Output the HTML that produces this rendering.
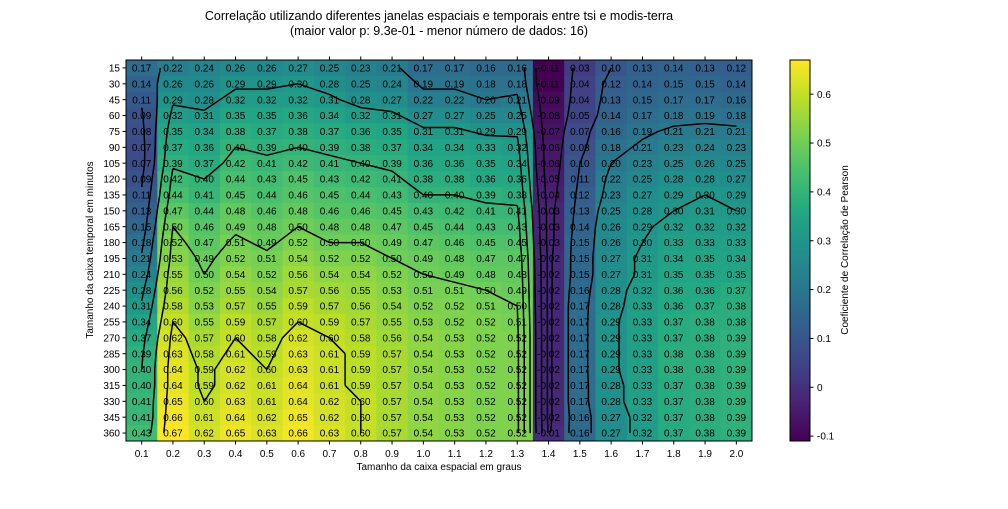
<!DOCTYPE html>
<html><head><meta charset="utf-8">
<style>
body{margin:0;background:#fff;}
svg text{font-family:"Liberation Sans","DejaVu Sans",sans-serif;}
</style></head>
<body>
<svg id="chart" width="1008" height="504" xmlns="http://www.w3.org/2000/svg">
<text x="439" y="20" font-size="12.5" text-anchor="middle">Correlação utilizando diferentes janelas espaciais e temporais entre tsi e modis-terra</text>
<text x="439" y="35" font-size="12.5" text-anchor="middle">(maior valor p: 9.3e-01 - menor número de dados: 16)</text>
<g id="cells"></g>
<g id="contours"></g>
<g id="labels"></g>
<rect x="126" y="60" width="626" height="381" fill="none" stroke="#000" stroke-width="1"/>
<g id="xaxis"></g>
<g id="yaxis"></g>
<text x="439" y="470" font-size="10" text-anchor="middle">Tamanho da caixa espacial em graus</text>
<text transform="translate(93,250) rotate(-90)" font-size="10" text-anchor="middle">Tamanho da caixa temporal em minutos</text>
<defs><linearGradient id="cbg" x1="0" y1="1" x2="0" y2="0"></linearGradient></defs>
<rect x="790" y="60" width="20" height="381" fill="url(#cbg)" stroke="#000" stroke-width="1"/>
<g id="cbticks"></g>
<text transform="translate(848,250) rotate(-90)" font-size="10" text-anchor="middle">Coeficiente de Correlação de Pearson</text>
</svg>
<script>
const xCats=["0.1","0.2","0.3","0.4","0.5","0.6","0.7","0.8","0.9","1.0","1.1","1.2","1.3","1.4","1.5","1.6","1.7","1.8","1.9","2.0"];
const yCats=["15","30","45","60","75","90","105","120","135","150","165","180","195","210","225","240","255","270","285","300","315","330","345","360"];
const values=[
[0.17,0.22,0.24,0.26,0.26,0.27,0.25,0.23,0.21,0.17,0.17,0.16,0.16,-0.11,0.03,0.10,0.13,0.14,0.13,0.12],
[0.14,0.26,0.26,0.29,0.29,0.30,0.28,0.25,0.24,0.19,0.19,0.18,0.18,-0.11,0.04,0.12,0.14,0.15,0.15,0.14],
[0.11,0.29,0.28,0.32,0.32,0.32,0.31,0.28,0.27,0.22,0.22,0.20,0.21,-0.09,0.04,0.13,0.15,0.17,0.17,0.16],
[0.09,0.32,0.31,0.35,0.35,0.36,0.34,0.32,0.31,0.27,0.27,0.25,0.25,-0.08,0.05,0.14,0.17,0.18,0.19,0.18],
[0.08,0.35,0.34,0.38,0.37,0.38,0.37,0.36,0.35,0.31,0.31,0.29,0.29,-0.07,0.07,0.16,0.19,0.21,0.21,0.21],
[0.07,0.37,0.36,0.40,0.39,0.40,0.39,0.38,0.37,0.34,0.34,0.33,0.32,-0.06,0.08,0.18,0.21,0.23,0.24,0.23],
[0.07,0.39,0.37,0.42,0.41,0.42,0.41,0.40,0.39,0.36,0.36,0.35,0.34,-0.06,0.10,0.20,0.23,0.25,0.26,0.25],
[0.09,0.42,0.40,0.44,0.43,0.45,0.43,0.42,0.41,0.38,0.38,0.36,0.36,-0.05,0.11,0.22,0.25,0.28,0.28,0.27],
[0.11,0.44,0.41,0.45,0.44,0.46,0.45,0.44,0.43,0.40,0.40,0.39,0.38,-0.04,0.12,0.23,0.27,0.29,0.30,0.29],
[0.13,0.47,0.44,0.48,0.46,0.48,0.46,0.46,0.45,0.43,0.42,0.41,0.41,-0.03,0.13,0.25,0.28,0.30,0.31,0.30],
[0.15,0.50,0.46,0.49,0.48,0.50,0.48,0.48,0.47,0.45,0.44,0.43,0.43,-0.03,0.14,0.26,0.29,0.32,0.32,0.32],
[0.18,0.52,0.47,0.51,0.49,0.52,0.50,0.50,0.49,0.47,0.46,0.45,0.45,-0.03,0.15,0.26,0.30,0.33,0.33,0.33],
[0.21,0.53,0.49,0.52,0.51,0.54,0.52,0.52,0.50,0.49,0.48,0.47,0.47,-0.02,0.15,0.27,0.31,0.34,0.35,0.34],
[0.24,0.55,0.50,0.54,0.52,0.56,0.54,0.54,0.52,0.50,0.49,0.48,0.48,-0.02,0.15,0.27,0.31,0.35,0.35,0.35],
[0.28,0.56,0.52,0.55,0.54,0.57,0.56,0.55,0.53,0.51,0.51,0.50,0.49,-0.02,0.16,0.28,0.32,0.36,0.36,0.37],
[0.31,0.58,0.53,0.57,0.55,0.59,0.57,0.56,0.54,0.52,0.52,0.51,0.50,-0.02,0.17,0.28,0.33,0.36,0.37,0.38],
[0.34,0.60,0.55,0.59,0.57,0.60,0.59,0.57,0.55,0.53,0.52,0.52,0.51,-0.02,0.17,0.29,0.33,0.37,0.38,0.38],
[0.37,0.62,0.57,0.60,0.58,0.62,0.60,0.58,0.56,0.54,0.53,0.52,0.52,-0.02,0.17,0.29,0.33,0.37,0.38,0.39],
[0.39,0.63,0.58,0.61,0.59,0.63,0.61,0.59,0.57,0.54,0.53,0.52,0.52,-0.02,0.17,0.29,0.33,0.38,0.38,0.39],
[0.40,0.64,0.59,0.62,0.60,0.63,0.61,0.59,0.57,0.54,0.53,0.52,0.52,-0.02,0.17,0.29,0.33,0.38,0.38,0.39],
[0.40,0.64,0.59,0.62,0.61,0.64,0.61,0.59,0.57,0.54,0.53,0.52,0.52,-0.02,0.17,0.28,0.33,0.37,0.38,0.39],
[0.41,0.65,0.60,0.63,0.61,0.64,0.62,0.60,0.57,0.54,0.53,0.52,0.52,-0.02,0.17,0.28,0.33,0.37,0.38,0.39],
[0.41,0.66,0.61,0.64,0.62,0.65,0.62,0.60,0.57,0.54,0.53,0.52,0.52,-0.02,0.16,0.27,0.32,0.37,0.38,0.39],
[0.43,0.67,0.62,0.65,0.63,0.66,0.63,0.60,0.57,0.54,0.53,0.52,0.52,-0.01,0.16,0.27,0.32,0.37,0.38,0.39]];
const contourLevels=[0,0.1,0.2,0.3,0.4,0.5,0.6];
const cbTicks=[-0.1,0,0.1,0.2,0.3,0.4,0.5,0.6];

const NS="http://www.w3.org/2000/svg";
const L=126,T=60,W=626,H=381;
const cw=W/xCats.length, ch=H/yCats.length;
let vmin=Infinity,vmax=-Infinity;
values.forEach(r=>r.forEach(v=>{vmin=Math.min(vmin,v);vmax=Math.max(vmax,v);}));
const xC=i=>L+cw*(i+0.5), yC=j=>T+ch*(j+0.5);
const cbY=v=>T+H-(v-vmin)/(vmax-vmin)*H;
const vir=[[68,1,84],[72,35,116],[64,67,135],[52,94,141],[41,120,142],[32,144,140],[34,167,132],[68,190,112],[121,209,81],[189,222,38],[253,231,37]];
function color(v){let t=(v-vmin)/(vmax-vmin);t=Math.max(0,Math.min(1,t));const p=t*(vir.length-1);const i=Math.min(Math.floor(p),vir.length-2);const f=p-i;const c=vir[i].map((a,k)=>Math.round(a+(vir[i+1][k]-a)*f));return `rgb(${c[0]},${c[1]},${c[2]})`;}
function mk(tag,attrs,parent){const e=document.createElementNS(NS,tag);for(const k in attrs)e.setAttribute(k,attrs[k]);parent.appendChild(e);return e;}
const gC=document.getElementById('cells'),gL=document.getElementById('labels'),gK=document.getElementById('contours');
values.forEach((row,j)=>row.forEach((v,i)=>{
 const r=mk('rect',{x:L+cw*i,y:T+ch*j,width:cw+0.5,height:ch+0.5,fill:color(v)},gC);
 
 
 const t=mk('text',{x:xC(i),y:yC(j)+3.6,'font-size':10,'text-anchor':'middle',fill:'#000'},gL);
 
 
 t.textContent=v.toFixed(2);
}));
// marching squares contours
contourLevels.forEach(lv=>{
 let d='';
 for(let j=0;j<yCats.length-1;j++)for(let i=0;i<xCats.length-1;i++){
  const c=[[i,j],[i+1,j],[i+1,j+1],[i,j+1]];
  const pts=[];
  for(let k=0;k<4;k++){const a=c[k],b=c[(k+1)%4];const va=values[a[1]][a[0]],vb=values[b[1]][b[0]];
   if((va<lv)!==(vb<lv)){const f=(lv-va)/(vb-va);pts.push([xC(a[0]+(b[0]-a[0])*f),yC(a[1]+(b[1]-a[1])*f)]);}}
  for(let k=0;k+1<pts.length;k+=2)d+=`M${pts[k][0].toFixed(1)},${pts[k][1].toFixed(1)}L${pts[k+1][0].toFixed(1)},${pts[k+1][1].toFixed(1)}`;
 }
 const p=mk('path',{d:d,stroke:'#000','stroke-width':1.5,fill:'none'},gK);
 
 
});
const gX=document.getElementById('xaxis'),gY=document.getElementById('yaxis');
xCats.forEach((c,i)=>{
 mk('line',{x1:xC(i),x2:xC(i),y1:T+H,y2:T+H+3.5,stroke:'#000'},gX);
 mk('line',{x1:xC(i),x2:xC(i),y1:T,y2:T-3.5,stroke:'#000'},gX);
 const t=mk('text',{x:xC(i),y:T+H+16,'font-size':10,'text-anchor':'middle'},gX);
 
 
 t.textContent=c;
});
yCats.forEach((c,j)=>{
 mk('line',{x1:L,x2:L-3.5,y1:yC(j),y2:yC(j),stroke:'#000'},gY);
 const t=mk('text',{x:L-6,y:yC(j)+3.6,'font-size':10,'text-anchor':'end'},gY);
 
 
 t.textContent=c;
});
const grad=document.getElementById('cbg');
for(let k=0;k<=20;k++){mk('stop',{offset:k/20,'stop-color':color(vmin+(vmax-vmin)*k/20)},grad);}
const gT=document.getElementById('cbticks');
cbTicks.forEach(v=>{
 mk('line',{x1:810,x2:813.5,y1:cbY(v),y2:cbY(v),stroke:'#000'},gT);
 const t=mk('text',{x:817,y:cbY(v)+3.6,'font-size':10},gT);
 
 
 t.textContent=(v===0?'0':v.toFixed(1));
});
</script>
</body></html>
